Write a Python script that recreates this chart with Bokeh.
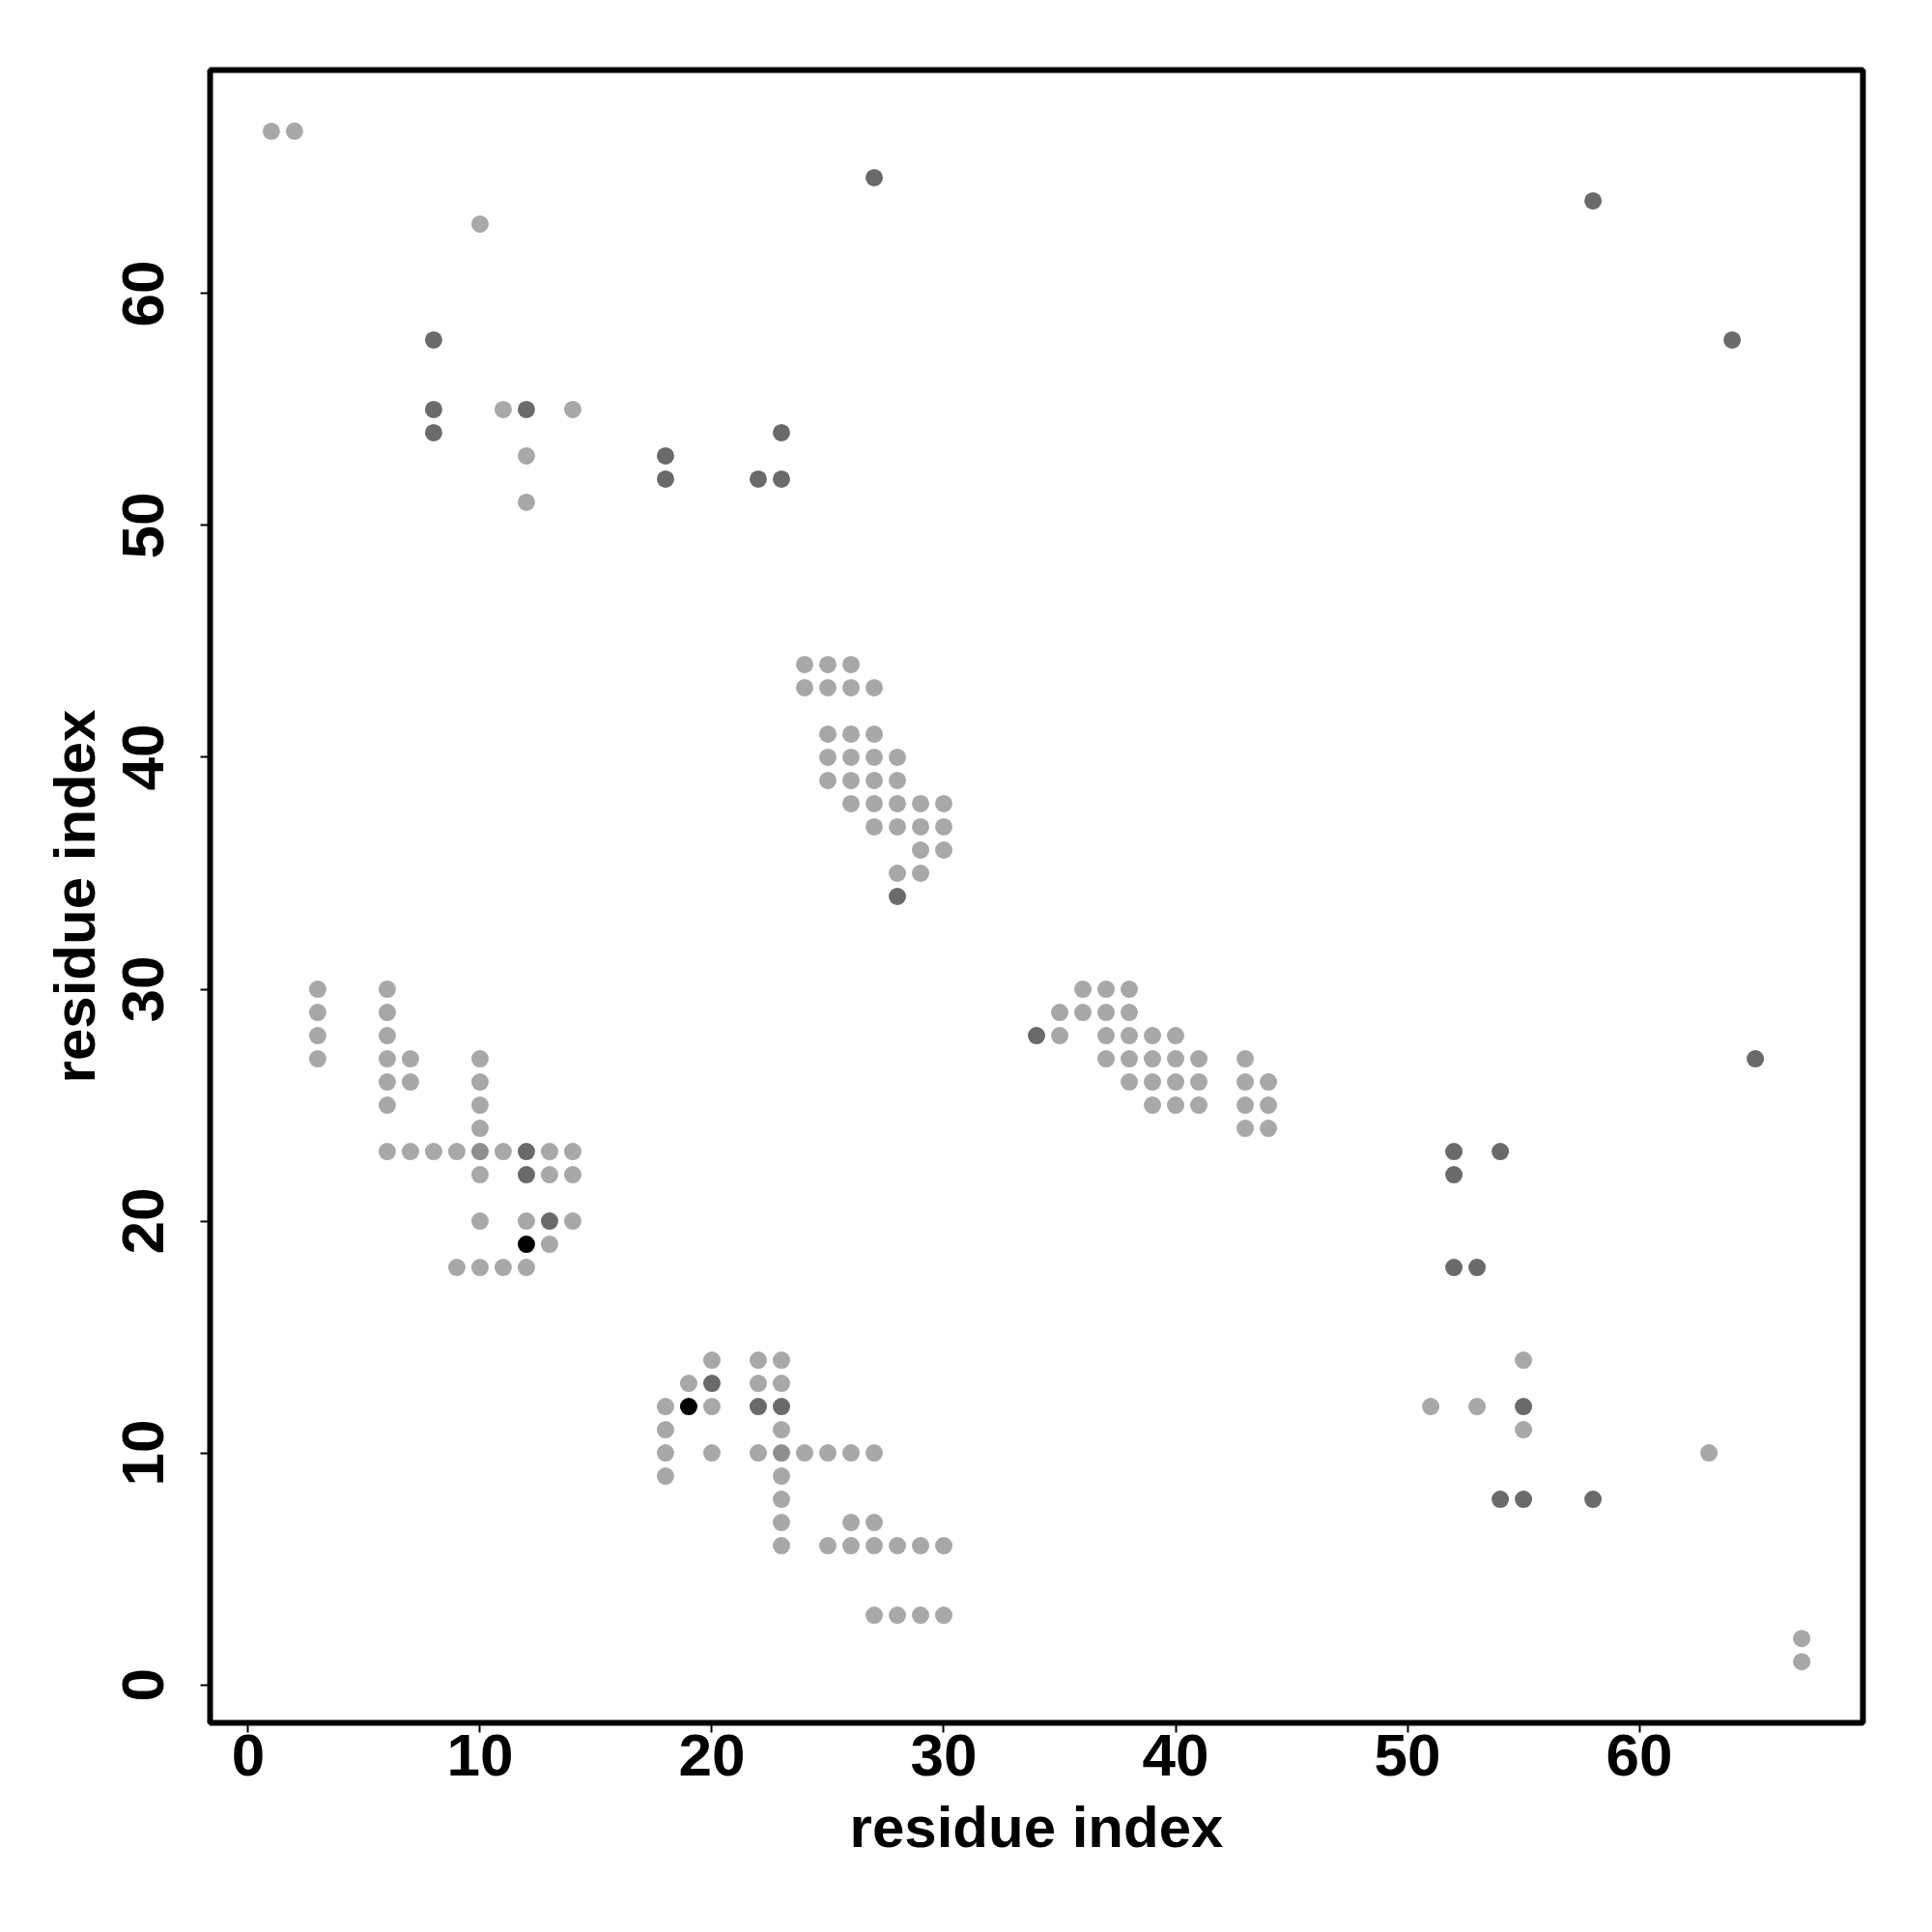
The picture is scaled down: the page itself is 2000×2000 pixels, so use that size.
from bokeh.plotting import figure
from bokeh.models import Range1d, FixedTicker
from bokeh.embed import file_html
from bokeh.resources import INLINE

# ---- data: contact map points (residue i, residue j) grouped by shade ----
light_x = [1, 2, 10, 11, 14, 12, 12,
           24, 25, 26, 24, 25, 26, 27, 25, 26, 27, 25, 26, 27, 28, 25, 26, 27, 28,
           26, 27, 28, 29, 30, 27, 28, 29, 30, 29, 30, 28, 29,
           3, 6, 3, 6, 3, 6, 3, 6, 7, 10, 6, 7, 10, 6, 10, 10,
           6, 7, 8, 9, 11, 13, 14, 10, 13, 14, 10, 12, 14, 13, 9, 10, 11, 12,
           36, 37, 38, 35, 36, 37, 38, 35, 37, 38, 39, 40, 37, 38, 39, 40, 41, 43,
           38, 39, 40, 41, 43, 44, 39, 40, 41, 43, 44, 43, 44,
           20, 22, 23, 19, 22, 23, 18, 20, 18, 23, 18, 20, 22, 24, 25, 26, 27,
           18, 23, 23, 23, 26, 27, 23, 25, 26, 27, 28, 29, 30, 27, 28, 29, 30,
           55, 51, 53, 55, 63, 67, 67]
light_y = [67, 67, 63, 55, 55, 53, 51,
           44, 44, 44, 43, 43, 43, 43, 41, 41, 41, 40, 40, 40, 40, 39, 39, 39, 39,
           38, 38, 38, 38, 38, 37, 37, 37, 37, 36, 36, 35, 35,
           30, 30, 29, 29, 28, 28, 27, 27, 27, 27, 26, 26, 26, 25, 25, 24,
           23, 23, 23, 23, 23, 23, 23, 22, 22, 22, 20, 20, 20, 19, 18, 18, 18, 18,
           30, 30, 30, 29, 29, 29, 29, 28, 28, 28, 28, 28, 27, 27, 27, 27, 27, 27,
           26, 26, 26, 26, 26, 26, 25, 25, 25, 25, 25, 24, 24,
           14, 14, 14, 13, 13, 13, 12, 12, 11, 11, 10, 10, 10, 10, 10, 10, 10,
           9, 9, 8, 7, 7, 7, 6, 6, 6, 6, 6, 6, 6, 3, 3, 3, 3,
           14, 12, 12, 11, 10, 2, 1]

medium_x = [10, 23]
medium_y = [23, 10]

dark_x = [8, 8, 8, 12, 18, 18, 22, 23, 23, 27, 58, 64, 65, 34, 28,
          12, 12, 13, 20, 22, 23, 52, 52, 54, 52, 53, 55, 54, 55, 58]
dark_y = [58, 55, 54, 55, 53, 52, 52, 52, 54, 65, 64, 58, 27, 28, 34,
          23, 22, 20, 13, 12, 12, 23, 22, 23, 18, 18, 12, 8, 8, 8]

black_x = [12, 19]
black_y = [19, 12]

ticks = [0, 10, 20, 30, 40, 50, 60]

FONT = "Liberation Sans"

p = figure(frame_width=1711, frame_height=1711,
           min_border_left=217, min_border_right=64,
           min_border_top=72, min_border_bottom=200,
           x_range=Range1d(-1.64, 69.64), y_range=Range1d(-1.64, 69.64),
           output_backend="svg", toolbar_location=None)

p.grid.visible = False
p.outline_line_color = "black"
p.outline_line_width = 6
p.background_fill_color = "white"
p.border_fill_color = "white"

for ax in (p.xaxis[0], p.yaxis[0]):
    ax.ticker = FixedTicker(ticks=ticks)
    ax.axis_line_color = None
    ax.major_tick_out = 10
    ax.major_tick_in = 0
    ax.major_tick_line_width = 2
    ax.major_tick_line_color = "black"
    ax.minor_tick_line_color = None
    ax.major_label_text_font = FONT
    ax.major_label_text_font_style = "bold"
    ax.major_label_text_font_size = "62px"
    ax.major_label_text_color = "black"
    ax.axis_label = "residue index"
    ax.axis_label_text_font = FONT
    ax.axis_label_text_font_style = "bold"
    ax.axis_label_text_font_size = "60px"
    ax.axis_label_text_color = "black"

p.xaxis.major_label_standoff = 2
p.xaxis.axis_label_standoff = 17
p.yaxis.major_label_orientation = "vertical"
p.yaxis.major_label_standoff = 38
p.yaxis.axis_label_standoff = 14

p.scatter(light_x, light_y, size=18, fill_color="#a8a8a8", line_color=None)
p.scatter(medium_x, medium_y, size=18, fill_color="#8e8e8e", line_color=None)
p.scatter(dark_x, dark_y, size=18, fill_color="#6a6a6a", line_color=None)
p.scatter(black_x, black_y, size=18, fill_color="#000000", line_color=None)

open("out.html", "w").write(file_html(p, INLINE))
